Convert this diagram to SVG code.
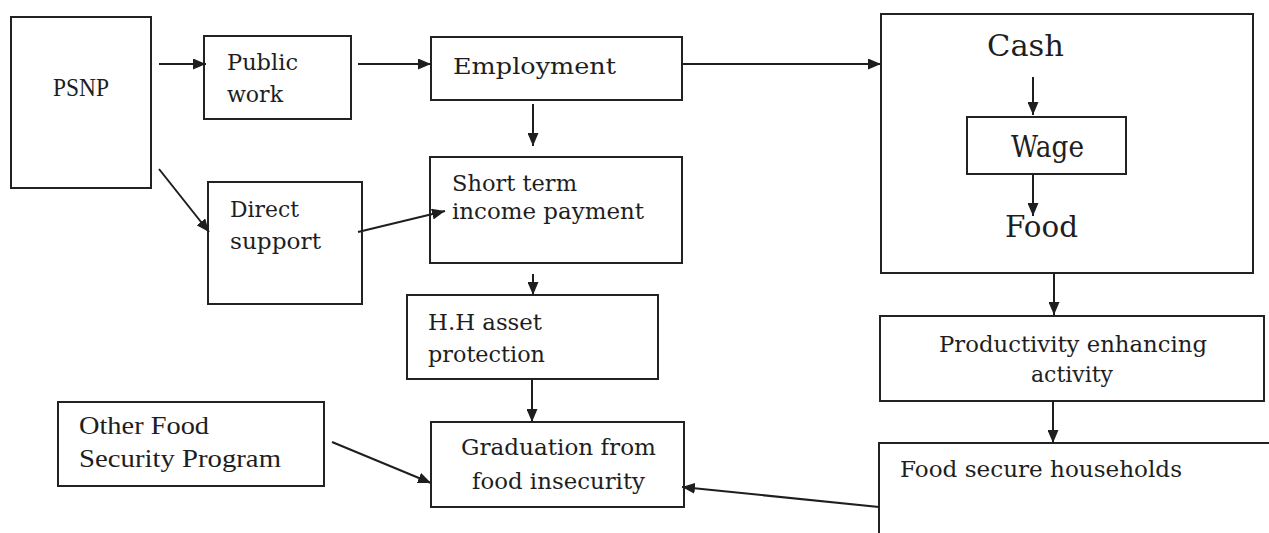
<svg xmlns="http://www.w3.org/2000/svg" width="1269" height="533" viewBox="0 0 1269 533">
  <defs>
    <marker id="ah" markerWidth="13" markerHeight="11" refX="13" refY="5.5" orient="auto" markerUnits="userSpaceOnUse">
      <path d="M0,0 L13,5.5 L0,11 z" fill="#1e1e1e"/>
    </marker>
  </defs>
  <style>
    .box { fill: #ffffff; stroke: #222222; stroke-width: 2; }
    .t { font-family: "DejaVu Serif", "Liberation Serif", serif; font-size: 23px; fill: #1e1e1e; }
    .tt { font-family: "Liberation Serif", "DejaVu Serif", serif; font-size: 25px; fill: #1e1e1e; }
    .big { font-family: "DejaVu Serif", "Liberation Serif", serif; font-size: 29px; fill: #1e1e1e; }
    .c { fill: none; stroke: #1e1e1e; stroke-width: 2; marker-end: url(#ah); }
  </style>
  <rect width="1269" height="533" fill="#ffffff"/>

  <g id="psnp">
    <rect class="box" x="11" y="17" width="140" height="171"/>
    <text class="tt" x="53" y="96" font-size="21" textLength="56" lengthAdjust="spacingAndGlyphs">PSNP</text>
  </g>
  <g id="public-work">
    <rect class="box" x="204" y="36" width="147" height="83"/>
    <text class="t" x="227" y="70" textLength="71" lengthAdjust="spacingAndGlyphs">Public</text>
    <text class="t" x="227" y="102" textLength="56" lengthAdjust="spacingAndGlyphs">work</text>
  </g>
  <g id="employment">
    <rect class="box" x="431" y="37" width="251" height="63"/>
    <text class="t" x="453" y="74" font-size="24" textLength="163" lengthAdjust="spacingAndGlyphs">Employment</text>
  </g>
  <g id="direct-support">
    <rect class="box" x="208" y="182" width="154" height="122"/>
    <text class="t" x="230" y="217" textLength="69" lengthAdjust="spacingAndGlyphs">Direct</text>
    <text class="t" x="230" y="249" textLength="91" lengthAdjust="spacingAndGlyphs">support</text>
  </g>
  <g id="short-term">
    <rect class="box" x="430" y="157" width="252" height="106"/>
    <text class="t" x="452" y="191" textLength="125" lengthAdjust="spacingAndGlyphs">Short term</text>
    <text class="t" x="452" y="219" textLength="192" lengthAdjust="spacingAndGlyphs">income payment</text>
  </g>
  <g id="hh-asset">
    <rect class="box" x="407" y="295" width="251" height="84"/>
    <text class="t" x="428" y="330" textLength="114" lengthAdjust="spacingAndGlyphs">H.H asset</text>
    <text class="t" x="428" y="362" textLength="117" lengthAdjust="spacingAndGlyphs">protection</text>
  </g>
  <g id="graduation">
    <rect class="box" x="431" y="422" width="253" height="85"/>
    <text class="t" x="461" y="455" textLength="195" lengthAdjust="spacingAndGlyphs">Graduation from</text>
    <text class="t" x="472" y="489" textLength="173" lengthAdjust="spacingAndGlyphs">food insecurity</text>
  </g>
  <g id="other-food">
    <rect class="box" x="58" y="402" width="266" height="84"/>
    <text class="tt" x="79" y="434" textLength="130" lengthAdjust="spacingAndGlyphs">Other Food</text>
    <text class="tt" x="79" y="467" textLength="202" lengthAdjust="spacingAndGlyphs">Security Program</text>
  </g>
  <g id="cash-box">
    <rect class="box" x="881" y="14" width="372" height="259"/>
    <text class="big" x="987" y="56" textLength="77" lengthAdjust="spacingAndGlyphs">Cash</text>
    <text class="big" x="1005" y="237" textLength="73" lengthAdjust="spacingAndGlyphs">Food</text>
  </g>
  <g id="wage">
    <rect class="box" x="967" y="117" width="159" height="57"/>
    <text class="big" x="1011" y="157" font-size="27" textLength="73" lengthAdjust="spacingAndGlyphs">Wage</text>
  </g>
  <g id="productivity">
    <rect class="box" x="880" y="316" width="384" height="85"/>
    <text class="t" x="939" y="352" font-size="24" textLength="268" lengthAdjust="spacingAndGlyphs">Productivity enhancing</text>
    <text class="t" x="1031" y="382" font-size="24" textLength="82" lengthAdjust="spacingAndGlyphs">activity</text>
  </g>
  <g id="food-secure">
    <rect class="box" x="879" y="443" width="420" height="130"/>
    <text class="t" x="900" y="477" font-size="24" textLength="282" lengthAdjust="spacingAndGlyphs">Food secure households</text>
  </g>

  <g id="connectors">
    <path class="c" d="M159,64 L206,64"/>
    <path class="c" d="M358,64 L431,64"/>
    <path class="c" d="M682,64 L881,64"/>
    <path class="c" d="M533,104 L533,146"/>
    <path class="c" d="M533,274 L533,295"/>
    <path class="c" d="M159,169 L209,232"/>
    <path class="c" d="M358,232 L445,211"/>
    <path class="c" d="M532,379 L532,422"/>
    <path class="c" d="M332,442 L431,483"/>
    <path class="c" d="M879,507 L682,487"/>
    <path class="c" d="M1033,77 L1033,115"/>
    <path class="c" d="M1033,174 L1033,216"/>
    <path class="c" d="M1054,273 L1054,315"/>
    <path class="c" d="M1053,401 L1053,443"/>
  </g>
</svg>
